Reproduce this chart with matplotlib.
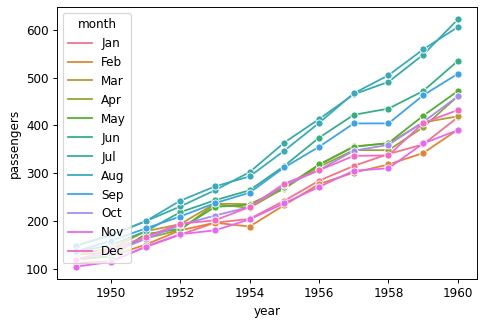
import numpy as np
import pandas as pd
import seaborn as sns
import matplotlib.pyplot as plt
from matplotlib.lines import Line2D

years = list(range(1949, 1961))
months = ['Jan', 'Feb', 'Mar', 'Apr', 'May', 'Jun',
          'Jul', 'Aug', 'Sep', 'Oct', 'Nov', 'Dec']
# passengers per year, one row per year, Jan..Dec
p1949 = [112, 118, 132, 129, 121, 135, 148, 148, 136, 119, 104, 118]
p1950 = [115, 126, 141, 135, 125, 149, 170, 170, 158, 133, 114, 140]
p1951 = [145, 150, 178, 163, 172, 178, 199, 199, 184, 162, 146, 166]
p1952 = [171, 180, 193, 181, 183, 218, 230, 242, 209, 191, 172, 194]
p1953 = [196, 196, 236, 235, 229, 243, 264, 272, 237, 211, 180, 201]
p1954 = [204, 188, 235, 227, 234, 264, 302, 293, 259, 229, 203, 229]
p1955 = [242, 233, 267, 269, 270, 315, 364, 347, 312, 274, 237, 278]
p1956 = [284, 277, 317, 313, 318, 374, 413, 405, 355, 306, 271, 306]
p1957 = [315, 301, 356, 348, 355, 422, 465, 467, 404, 347, 305, 336]
p1958 = [340, 318, 362, 348, 363, 435, 491, 505, 404, 359, 310, 337]
p1959 = [360, 342, 406, 396, 420, 472, 548, 559, 463, 407, 362, 405]
p1960 = [417, 391, 419, 461, 472, 535, 622, 606, 508, 461, 390, 432]
rows = [p1949, p1950, p1951, p1952, p1953, p1954,
        p1955, p1956, p1957, p1958, p1959, p1960]

df = pd.DataFrame(rows, index=years, columns=months)
df.index.name = 'year'
flights = df.reset_index().melt(id_vars='year', var_name='month',
                                value_name='passengers')
flights['month'] = pd.Categorical(flights['month'], categories=months, ordered=True)

dpi = 86
fig = plt.figure(figsize=(502 / dpi, 325 / dpi), dpi=dpi)
ax = fig.add_axes([57 / 502, 46 / 325, 420 / 502, 272 / 325])
palette = sns.color_palette('husl', len(months))
sns.lineplot(data=flights, x='year', y='passengers', hue='month',
             palette=palette, marker='o', ax=ax, legend=False)

# legend shows plain lines only
handles = [Line2D([], [], color=c, lw=1.5) for c in palette]
ax.legend(handles, months, title='month', loc='upper left')
fig.savefig('out.png', dpi=dpi)
